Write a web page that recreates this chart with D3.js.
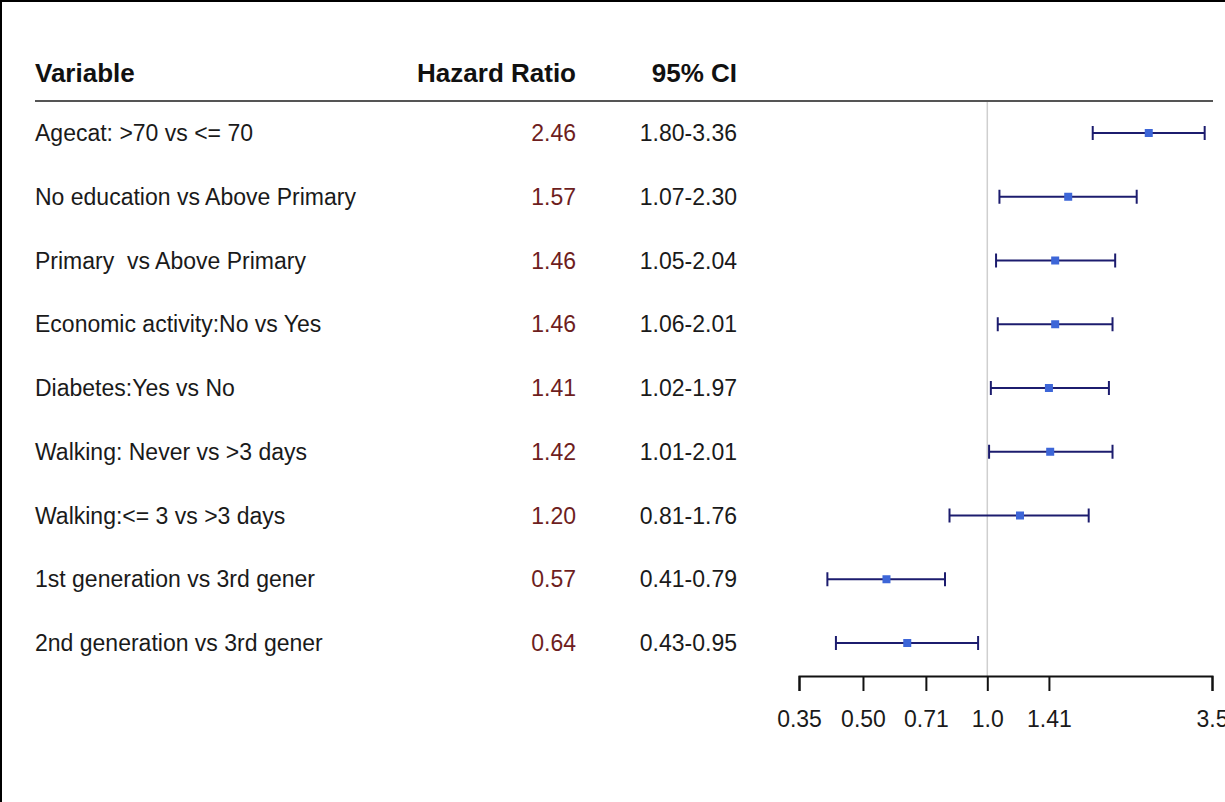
<!DOCTYPE html>
<html>
<head>
<meta charset="utf-8">
<script src="https://cdn.jsdelivr.net/npm/d3@7"></script>
<style>
  body { margin: 0; background: #fff; }
  text { font-family: "Liberation Sans", Arial, sans-serif; white-space: pre; }
</style>
</head>
<body>
<div id="chart"></div>
<script>
// data
var variables = ["Agecat: >70 vs <= 70", "No education vs Above Primary", "Primary  vs Above Primary",
                 "Economic activity:No vs Yes", "Diabetes:Yes vs No", "Walking: Never vs >3 days",
                 "Walking:<= 3 vs >3 days", "1st generation vs 3rd gener", "2nd generation vs 3rd gener"];
var hr    = [2.46, 1.57, 1.46, 1.46, 1.41, 1.42, 1.20, 0.57, 0.64];
var lower = [1.80, 1.07, 1.05, 1.06, 1.02, 1.01, 0.81, 0.41, 0.43];
var upper = [3.36, 2.30, 2.04, 2.01, 1.97, 2.01, 1.76, 0.79, 0.95];
var tickVals   = [0.35, 0.50, 0.71, 1.0, 1.41, 3.5];
var tickLabels = ["0.35", "0.50", "0.71", "1.0", "1.41", "3.5"];

var width = 1225, height = 802;

var svg = d3.select("#chart").append("svg")
    .attr("width", width)
    .attr("height", height);

// frame (only top and left edges visible in the picture)
svg.append("line").attr("x1", 0).attr("x2", width).attr("y1", 1).attr("y2", 1)
  .attr("stroke", "#000").attr("stroke-width", 2);
svg.append("line").attr("x1", 1).attr("x2", 1).attr("y1", 0).attr("y2", height)
  .attr("stroke", "#000").attr("stroke-width", 2);

var x = d3.scaleLog().domain([0.35, 3.5]).range([799, 1212]);
var y = d3.scalePoint().domain(variables).range([133, 643]);

var rows = variables.map(function(v, i) {
  return {name: v, hr: hr[i], lo: lower[i], hi: upper[i]};
});

// headers
var headY = 73;
svg.append("text").attr("x", 35).attr("y", headY).attr("dy", "0.35em")
  .style("font-size", "26px").style("font-weight", "bold").attr("fill", "#111").text("Variable");
svg.append("text").attr("x", 576).attr("y", headY).attr("dy", "0.35em")
  .attr("text-anchor", "end")
  .style("font-size", "26px").style("font-weight", "bold").attr("fill", "#111").text("Hazard Ratio");
svg.append("text").attr("x", 737).attr("y", headY).attr("dy", "0.35em")
  .attr("text-anchor", "end")
  .style("font-size", "26px").style("font-weight", "bold").attr("fill", "#111").text("95% CI");

svg.append("line").attr("x1", 35).attr("x2", 1213).attr("y1", 101).attr("y2", 101)
  .attr("stroke", "#555").attr("stroke-width", 2);

// reference line at HR = 1
svg.append("line").attr("x1", x(1)).attr("x2", x(1)).attr("y1", 102).attr("y2", 676)
  .attr("stroke", "#cfcfcf").attr("stroke-width", 1.5);

// table text
var g = svg.selectAll("g.row").data(rows).enter().append("g").attr("class", "row");

g.append("text").attr("x", 35).attr("y", function(d) { return y(d.name); }).attr("dy", "0.35em")
  .style("font-size", "23px").attr("fill", "#1a1a1a")
  .text(function(d) { return d.name; });

g.append("text").attr("x", 576).attr("y", function(d) { return y(d.name); }).attr("dy", "0.35em")
  .attr("text-anchor", "end")
  .style("font-size", "23px").attr("fill", "#6e1e1e")
  .text(function(d) { return d.hr.toFixed(2); });

g.append("text").attr("x", 737).attr("y", function(d) { return y(d.name); }).attr("dy", "0.35em")
  .attr("text-anchor", "end")
  .style("font-size", "23px").attr("fill", "#1a1a1a")
  .text(function(d) { return d.lo.toFixed(2) + "-" + d.hi.toFixed(2); });

// confidence intervals
var ciCol = "#1c1c6e";
g.append("line")
  .attr("x1", function(d) { return x(d.lo); })
  .attr("x2", function(d) { return x(d.hi); })
  .attr("y1", function(d) { return y(d.name); })
  .attr("y2", function(d) { return y(d.name); })
  .attr("stroke", ciCol).attr("stroke-width", 2);
g.append("line")
  .attr("x1", function(d) { return x(d.lo); })
  .attr("x2", function(d) { return x(d.lo); })
  .attr("y1", function(d) { return y(d.name) - 7; })
  .attr("y2", function(d) { return y(d.name) + 7; })
  .attr("stroke", ciCol).attr("stroke-width", 2);
g.append("line")
  .attr("x1", function(d) { return x(d.hi); })
  .attr("x2", function(d) { return x(d.hi); })
  .attr("y1", function(d) { return y(d.name) - 7; })
  .attr("y2", function(d) { return y(d.name) + 7; })
  .attr("stroke", ciCol).attr("stroke-width", 2);
g.append("rect")
  .attr("x", function(d) { return x(d.hr) - 4; })
  .attr("y", function(d) { return y(d.name) - 4; })
  .attr("width", 8).attr("height", 8)
  .attr("fill", "#3d66d8");

// x axis
var xAxis = d3.axisBottom(x)
  .tickValues(tickVals)
  .tickFormat(function(d, i) { return tickLabels[i]; })
  .tickSize(15)
  .tickPadding(20);

var ax = svg.append("g").attr("transform", "translate(0,676)").call(xAxis);
ax.select(".domain").attr("stroke", "#111").attr("stroke-width", 2);
ax.selectAll(".tick line").attr("stroke", "#111").attr("stroke-width", 2);
ax.selectAll(".tick text")
  .style("font-family", "'Liberation Sans', Arial, sans-serif")
  .style("font-size", "23px").attr("fill", "#1a1a1a");
</script>
</body>
</html>
